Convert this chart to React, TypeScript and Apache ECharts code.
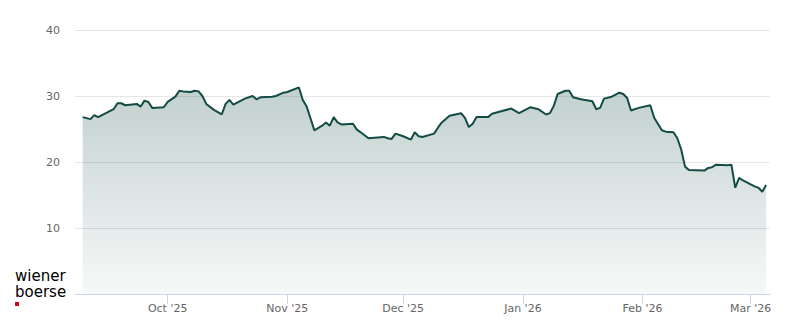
import React, { useEffect, useRef } from "react";
import * as echarts from "echarts";

const dates: string[] = [
  "2025-09-09", "2025-09-11", "2025-09-12", "2025-09-13", "2025-09-17", "2025-09-18", "2025-09-19", "2025-09-20",
  "2025-09-23", "2025-09-24", "2025-09-25", "2025-09-26", "2025-09-27", "2025-09-30", "2025-10-01", "2025-10-03",
  "2025-10-04", "2025-10-05", "2025-10-07", "2025-10-08", "2025-10-09", "2025-10-10", "2025-10-11", "2025-10-13",
  "2025-10-15", "2025-10-16", "2025-10-17", "2025-10-18", "2025-10-21", "2025-10-23", "2025-10-24", "2025-10-25",
  "2025-10-28", "2025-10-29", "2025-10-31", "2025-11-01", "2025-11-04", "2025-11-05", "2025-11-06", "2025-11-08",
  "2025-11-10", "2025-11-11", "2025-11-12", "2025-11-13", "2025-11-14", "2025-11-15", "2025-11-18", "2025-11-19",
  "2025-11-20", "2025-11-22", "2025-11-26", "2025-11-27", "2025-11-28", "2025-11-29", "2025-12-01", "2025-12-03",
  "2025-12-04", "2025-12-05", "2025-12-06", "2025-12-09", "2025-12-10", "2025-12-11", "2025-12-13", "2025-12-16",
  "2025-12-17", "2025-12-18", "2025-12-19", "2025-12-20", "2025-12-23", "2025-12-24", "2025-12-29", "2025-12-31",
  "2026-01-03", "2026-01-05", "2026-01-07", "2026-01-08", "2026-01-09", "2026-01-10", "2026-01-12", "2026-01-13",
  "2026-01-14", "2026-01-16", "2026-01-19", "2026-01-20", "2026-01-21", "2026-01-22", "2026-01-24", "2026-01-26",
  "2026-01-27", "2026-01-28", "2026-01-29", "2026-01-31", "2026-02-03", "2026-02-04", "2026-02-06", "2026-02-07",
  "2026-02-09", "2026-02-10", "2026-02-11", "2026-02-12", "2026-02-13", "2026-02-17", "2026-02-18", "2026-02-19",
  "2026-02-20", "2026-02-23", "2026-02-24", "2026-02-25", "2026-02-26", "2026-02-27", "2026-03-02", "2026-03-03",
  "2026-03-04", "2026-03-05",
];

const prices: number[] = [
  26.8, 26.5, 27.1, 26.8, 28.0, 28.9, 28.9, 28.6,
  28.8, 28.4, 29.3, 29.1, 28.2, 28.3, 29.1, 29.9,
  30.8, 30.7, 30.6, 30.8, 30.7, 30.0, 28.8, 27.9,
  27.2, 28.8, 29.4, 28.7, 29.6, 30.0, 29.5, 29.8,
  29.9, 30.0, 30.5, 30.6, 31.3, 29.4, 28.4, 24.8,
  25.5, 26.0, 25.5, 26.8, 26.0, 25.7, 25.8, 24.9,
  24.5, 23.6, 23.8, 23.6, 23.5, 24.3, 23.9, 23.4,
  24.5, 23.9, 23.8, 24.3, 25.2, 26.0, 27.0, 27.4,
  26.7, 25.3, 25.8, 26.8, 26.8, 27.3, 28.1, 27.4,
  28.3, 28.0, 27.2, 27.4, 28.5, 30.3, 30.8, 30.8,
  29.8, 29.5, 29.2, 28.0, 28.2, 29.6, 29.9, 30.5,
  30.3, 29.7, 27.8, 28.2, 28.6, 26.7, 24.8, 24.6,
  24.5, 23.6, 21.9, 19.3, 18.8, 18.7, 19.1, 19.2,
  19.6, 19.5, 19.6, 16.1, 17.6, 17.2, 16.3, 16.1,
  15.5, 16.5,
];

const monthTicks: string[] = ["2025-10-01", "2025-11-01", "2025-12-01", "2026-01-01", "2026-02-01", "2026-03-01"];
const axisStart = "2025-09-07";
const axisEnd = "2026-03-06";
const yTicks: number[] = [10, 20, 30, 40];
const yMin = 0;
const monthNames: string[] = ["Jan", "Feb", "Mar", "Apr", "May", "Jun", "Jul", "Aug", "Sep", "Oct", "Nov", "Dec"];

const DAY = 86400000;
// day number (UTC-based, timezone independent)
function dayNum(s: string): number {
  const [y, m, d] = s.split("-").map(Number);
  return Date.UTC(y, m - 1, d) / DAY;
}
function dayLabel(n: number): string {
  const d = new Date(Math.round(n) * DAY);
  return `${monthNames[d.getUTCMonth()]} '${String(d.getUTCFullYear()).slice(2)}`;
}

export default function App() {
  const ref = useRef<HTMLDivElement>(null);
  useEffect(() => {
    if (!ref.current) return;
    const chart = echarts.init(ref.current, null, { renderer: "svg" });
    const lineColor = "#134b45";
    const tickVals = monthTicks.map(dayNum);
    chart.setOption({
      animation: false,
      backgroundColor: "#ffffff",
      grid: { left: 75, right: 30, top: 30, bottom: 30 },
      xAxis: {
        type: "value",
        min: dayNum(axisStart),
        max: dayNum(axisEnd),
        axisLine: { show: true, lineStyle: { color: "#ccd6eb", width: 1 } },
        axisTick: {
          show: true,
          length: 10,
          lineStyle: { color: "#ccd6eb" },
          customValues: tickVals,
        },
        axisLabel: {
          customValues: tickVals,
          margin: 9,
          color: "#666666",
          fontFamily: "DejaVu Sans",
          fontSize: 11,
          formatter: (v: number) => dayLabel(v),
        },
        splitLine: { show: false },
      },
      yAxis: {
        type: "value",
        min: yMin,
        max: yTicks[yTicks.length - 1],
        interval: 10,
        axisLine: { show: false },
        axisTick: { show: false },
        axisLabel: {
          margin: 15,
          color: "#666666",
          fontFamily: "DejaVu Sans",
          fontSize: 11,
          customValues: yTicks,
        },
        splitLine: { lineStyle: { color: "#e6e6e6", width: 1 } },
      },
      series: [
        {
          type: "line",
          data: dates.map((d, i) => [dayNum(d), prices[i]]),
          symbol: "none",
          lineStyle: { color: lineColor, width: 2 },
          itemStyle: { color: lineColor },
          areaStyle: {
            color: {
              type: "linear",
              x: 0,
              y: 0,
              x2: 0,
              y2: 1,
              colorStops: [
                { offset: 0, color: "rgba(19,75,69,0.37)" },
                { offset: 1, color: "rgba(19,75,69,0.05)" },
              ],
            },
          },
        },
      ],
      graphic: [
        {
          type: "text",
          left: 15,
          top: 268,
          style: { text: "wiener", font: "15px 'DejaVu Sans'", lineHeight: 15, fill: "#000000" },
        },
        {
          type: "text",
          left: 15,
          top: 284.5,
          style: { text: "boerse", font: "15px 'DejaVu Sans'", lineHeight: 15, fill: "#000000" },
        },
        {
          type: "rect",
          shape: { x: 15, y: 302, width: 4, height: 4 },
          style: { fill: "#d5001e" },
        },
      ],
    });
    return () => chart.dispose();
  }, []);
  return (
    <div
      ref={ref}
      style={{ position: "absolute", left: 0, top: 0, width: 800, height: 324, background: "#fff" }}
    />
  );
}
